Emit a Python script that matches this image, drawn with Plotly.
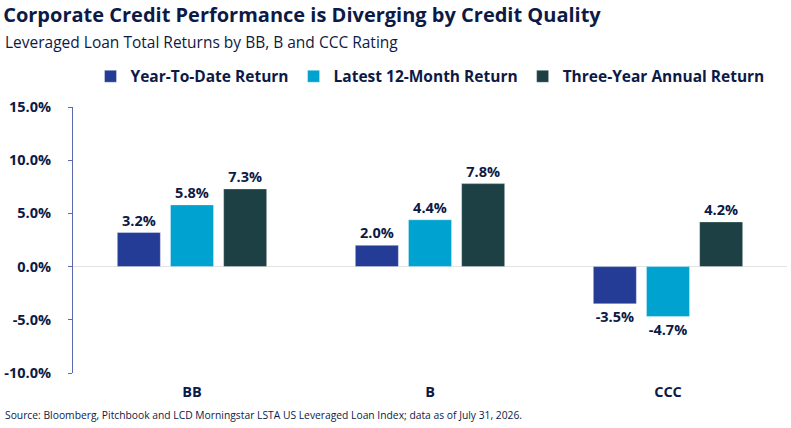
import plotly.graph_objects as go

# leveraged loan total returns by rating, in percent
ratings = ['BB', 'B', 'CCC']
ytd_return = [3.2, 2.0, -3.5]
ltm_return = [5.8, 4.4, -4.7]
three_year_return = [7.3, 7.8, 4.2]

series_names = ['Year-To-Date Return', 'Latest 12-Month Return', 'Three-Year Annual Return']
y_ticks = [-10, -5, 0, 5, 10, 15]

navy = '#0d1a45'
font_family = 'Open Sans, Arial, sans-serif'

fig = go.Figure()

for name, vals, color in zip(series_names,
                             [ytd_return, ltm_return, three_year_return],
                             ['#253c97', '#00a3cf', '#1c4044']):
    fig.add_trace(go.Bar(
        x=ratings,
        y=vals,
        name=name,
        marker=dict(color=color, line=dict(color='rgba(255,255,255,0.35)', width=1)),
        texttemplate='%{y:.1f}%',
        textposition='outside',
        constraintext='none',
        cliponaxis=False,
        textfont=dict(family=font_family, size=14.5, color=navy, weight='bold'),
        hoverinfo='skip'
    ))

fig.update_layout(
    width=791,
    height=428,
    margin=dict(l=73, r=4, t=107, b=55),
    plot_bgcolor='white',
    paper_bgcolor='white',
    barmode='group',
    bargap=0.33,
    bargroupgap=0.19,
    font=dict(family=font_family, color=navy),
    title=dict(
        text='<b>Corporate Credit Performance is Diverging by Credit Quality</b>',
        x=0.004, xanchor='left', xref='container',
        y=0.965, yanchor='middle', yref='container',
        font=dict(size=20, color=navy)
    ),
    legend=dict(
        orientation='h',
        x=0.5, xanchor='center',
        y=1.05, yanchor='bottom',
        font=dict(size=15.5, color=navy, weight='bold'),
        itemwidth=30,
        traceorder='normal'
    ),
    showlegend=True
)

fig.add_annotation(
    text='Leveraged Loan Total Returns by BB, B and CCC Rating',
    xref='paper', yref='paper', x=-0.098, y=1.244,
    xanchor='left', yanchor='middle', showarrow=False,
    font=dict(size=15.5, color=navy)
)
fig.add_annotation(
    text='Source: Bloomberg, Pitchbook and LCD Morningstar LSTA US Leveraged Loan Index; data as of July 31, 2026.',
    xref='paper', yref='paper', x=-0.098, y=-0.158,
    xanchor='left', yanchor='middle', showarrow=False,
    font=dict(size=10.3, color=navy)
)

fig.update_xaxes(
    showline=False,
    showgrid=False,
    ticks='',
    ticklabelstandoff=8,
    tickfont=dict(size=14.5, color=navy, weight='bold'),
)
fig.update_yaxes(
    range=[-10, 15],
    tickvals=y_ticks,
    ticktext=[f'{v:.1f}%' for v in y_ticks],
    showgrid=False,
    showline=True,
    linecolor='#5a68b0',
    linewidth=1,
    ticks='outside',
    ticklen=4,
    tickcolor='#5a68b0',
    ticklabelstandoff=14,
    automargin=False,
    zeroline=True,
    zerolinecolor='#e3e3e3',
    zerolinewidth=1,
    tickfont=dict(size=14.5, color=navy, weight='bold'),
)

fig.write_html('out.html', config={'displayModeBar': False},
               post_script="document.body.style.margin='0';document.body.style.padding='0';")
